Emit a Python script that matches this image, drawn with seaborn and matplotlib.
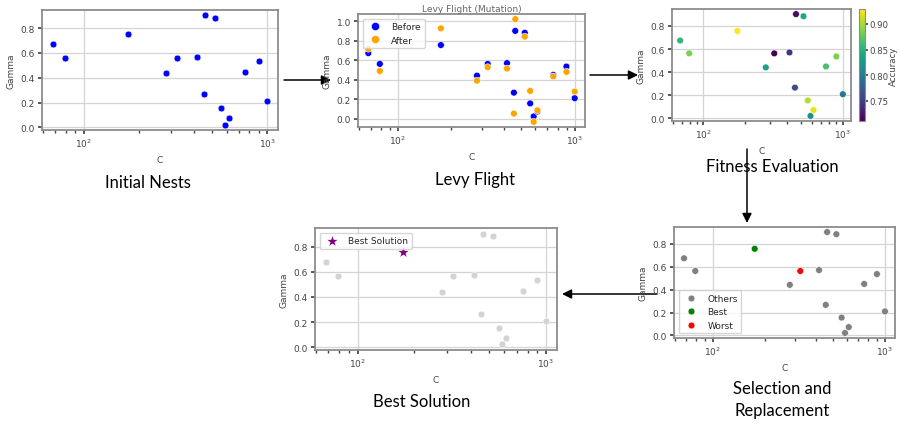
import matplotlib
matplotlib.use("Agg")
import matplotlib.pyplot as plt
import numpy as np
import pandas as pd
import seaborn as sns

# nests: C (log scale) and gamma, before / after the levy flight, plus fitness
c_values = [68, 79, 175, 280, 322, 414, 453, 461, 522, 560, 586, 616, 757, 898, 1000]
gamma_before = [0.674, 0.563, 0.757, 0.442, 0.563, 0.571, 0.267, 0.903, 0.884,
                0.156, 0.022, 0.073, 0.450, 0.536, 0.210]
gamma_after = [0.719, 0.490, 0.929, 0.390, 0.529, 0.515, 0.051, 1.024, 0.844,
               0.285, -0.034, 0.085, 0.434, 0.481, 0.278]
accuracy = [0.855, 0.885, 0.928, 0.835, 0.712, 0.745, 0.760, 0.720, 0.840,
            0.905, 0.815, 0.920, 0.865, 0.885, 0.798]
acc_range = (0.711, 0.929)

captions = ["Initial Nests", "Levy Flight", "Fitness Evaluation",
            "Selection and\nReplacement", "Best Solution"]

sns.set_theme(style="ticks")
plt.rcParams.update({
    "font.family": ["DejaVu Sans"],
    "font.size": 6.5,
    "axes.labelsize": 6.5,
    "axes.titlesize": 6.5,
    "xtick.labelsize": 6.5,
    "ytick.labelsize": 6.5,
    "legend.fontsize": 6.5,
    "axes.edgecolor": "#8c8c8c",
    "axes.linewidth": 1.3,
    "axes.labelcolor": "#444444",
    "xtick.color": "#444444",
    "ytick.color": "#444444",
    "xtick.major.size": 3,
    "ytick.major.size": 3,
    "xtick.minor.size": 1.8,
    "axes.grid": True,
    "grid.color": "#d4d4d4",
    "grid.linewidth": 0.9,
})

W, H = 900, 427
fig = plt.figure(figsize=(W / 100, H / 100), dpi=100)


def px_axes(left, top, right, bottom):
    return fig.add_axes([left / W, 1 - bottom / H, (right - left) / W, (bottom - top) / H])


def finish(ax):
    ax.set_xscale("log")
    ax.set_xlabel("C")
    ax.set_ylabel("Gamma")
    ax.grid(True, which="major")
    ax.tick_params(axis="both", pad=2)
    ax.xaxis.labelpad = 4


df = pd.DataFrame({"C": c_values, "Gamma": gamma_before, "Accuracy": accuracy})
best = int(np.argmax(accuracy))
worst = int(np.argmin(accuracy))
df["Role"] = "Others"
df.loc[best, "Role"] = "Best"
df.loc[worst, "Role"] = "Worst"

# 1. initial nests
ax1 = px_axes(42, 11, 278, 131)
sns.scatterplot(data=df, x="C", y="Gamma", color="blue", s=24, ax=ax1)
finish(ax1)

# 2. levy flight
levy = pd.concat([
    pd.DataFrame({"C": c_values, "Gamma": gamma_before, "Stage": "Before"}),
    pd.DataFrame({"C": c_values, "Gamma": gamma_after, "Stage": "After"}),
])
ax2 = px_axes(358, 15, 585, 128)
sns.scatterplot(data=levy, x="C", y="Gamma", hue="Stage", s=24, ax=ax2,
                palette={"Before": "blue", "After": "orange"})
finish(ax2)
sns.move_legend(ax2, "upper left", title=None, markerscale=1.2)
ax2.set_title("Levy Flight (Mutation)", pad=2, color="#666666")

# 3. fitness evaluation
ax3 = px_axes(672, 10, 851, 122)
sns.scatterplot(data=df, x="C", y="Gamma", hue="Accuracy", palette="viridis",
                hue_norm=acc_range, s=24, legend=False, ax=ax3)
finish(ax3)
cax = px_axes(859, 10, 865, 122)
sm = plt.cm.ScalarMappable(norm=plt.Normalize(*acc_range), cmap="viridis")
cb = fig.colorbar(sm, cax=cax)
cb.set_ticks([0.75, 0.80, 0.85, 0.90])
cb.ax.tick_params(pad=1, length=2.5, labelsize=6.2)
cb.set_label("Accuracy", color="#444444", labelpad=0, fontsize=6.2)
cb.outline.set_edgecolor("#8c8c8c")
cb.outline.set_linewidth(0.8)

# 4. selection and replacement
ax4 = px_axes(674, 228, 895, 339)
sns.scatterplot(data=df, x="C", y="Gamma", hue="Role", hue_order=["Others", "Best", "Worst"],
                palette={"Others": "gray", "Best": "green", "Worst": "red"}, s=24, ax=ax4)
finish(ax4)
sns.move_legend(ax4, "lower left", title=None)

# 5. best solution
ax5 = px_axes(315, 229, 557, 351)
sns.scatterplot(data=df, x="C", y="Gamma", color="lightgray", s=24, ax=ax5)
sns.scatterplot(data=df.iloc[[best]], x="C", y="Gamma", color="purple", marker="*",
                s=110, label="Best Solution", ax=ax5)
finish(ax5)
ax5.legend(loc="upper left")

# flow arrows and captions
over = fig.add_axes([0, 0, 1, 1], zorder=-1)
over.set_xlim(0, W)
over.set_ylim(H, 0)
over.axis("off")
arrow = dict(arrowstyle="-|>", mutation_scale=14, lw=1.1, color="black", shrinkA=0, shrinkB=0)
for (x0, y0), (x1, y1) in [((284, 81), (331, 81)), ((590, 76), (638, 76)),
                           ((747, 150), (747, 224)), ((657, 295), (562, 295))]:
    over.annotate("", xy=(x1, y1), xytext=(x0, y0), arrowprops=arrow)

cap_pos = [(148, 183), (475, 180), (772, 167), (782, 400), (422, 402)]
for (cx, cy), text in zip(cap_pos, captions):
    over.text(cx, cy, text, ha="center", va="center", fontsize=12,
              family=["Lato", "DejaVu Sans"], color="black", linespacing=1.5)

plt.savefig("out.png", dpi=100)
